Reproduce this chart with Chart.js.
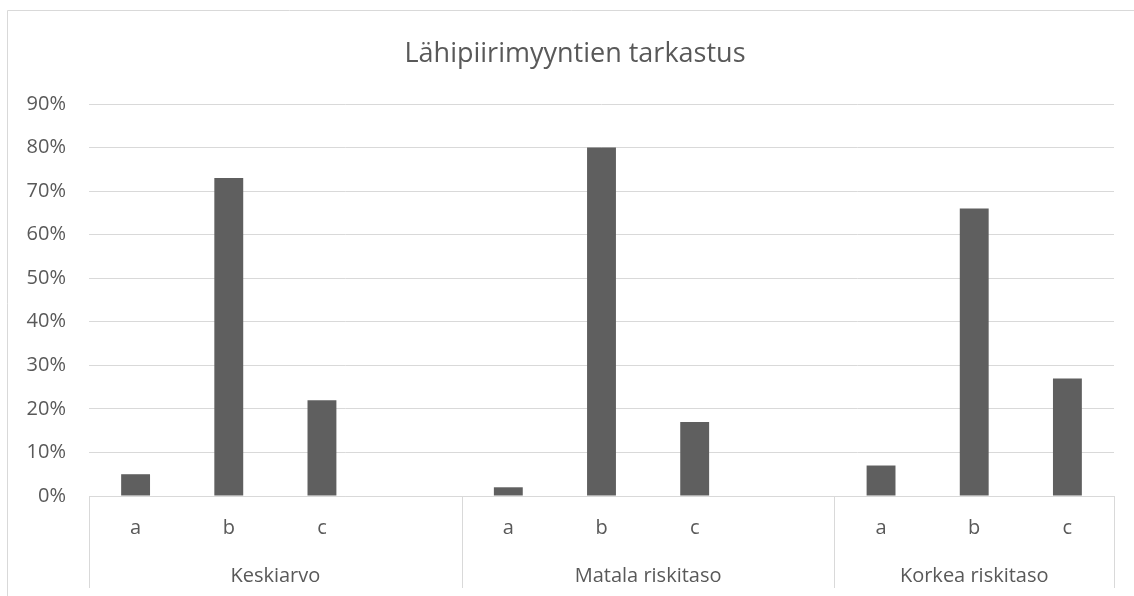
<!DOCTYPE html>
<html>
<head>
<meta charset="utf-8">
<script src="https://cdn.jsdelivr.net/npm/chart.js@4/dist/chart.umd.min.js"></script>
<style>
  html, body { margin: 0; padding: 0; background: #ffffff; }
  #wrap { width: 1134px; height: 596px; position: relative; }
</style>
</head>
<body>
<div id="wrap"><canvas id="chart" width="1134" height="596"></canvas></div>
<script>
// Chart heading
const titleText = 'Lähipiirimyyntien tarkastus';
// Inner category labels; an empty slot closes each group
const categories = ['a', 'b', 'c', '', 'a', 'b', 'c', '', 'a', 'b', 'c'];
// Percent values per slot (null = spacer slot)
const values = [5, 73, 22, null, 2, 80, 17, null, 7, 66, 27];
// Outer group labels and how many slots each spans
const groupNames = ['Keskiarvo', 'Matala riskitaso', 'Korkea riskitaso'];
const groupSizes = [4, 4, 3];
// Y axis ticks
const yTicks = [0, 10, 20, 30, 40, 50, 60, 70, 80, 90];

const TEXT = '#595959';
const LINE = '#d9d9d9';
const FONT = "'Open Sans', 'Noto Sans', sans-serif";

// Outer chart frame, heading and the second level of the category axis
const groupAxis = {
  id: 'groupAxis',
  beforeDraw(chart) {
    const ctx = chart.ctx;
    ctx.save();
    ctx.strokeStyle = LINE;
    ctx.lineWidth = 1;
    ctx.beginPath();
    ctx.moveTo(7.5, chart.height + 5);
    ctx.lineTo(7.5, 10.5);
    ctx.lineTo(chart.width + 5, 10.5);
    ctx.stroke();
    ctx.fillStyle = TEXT;
    ctx.font = '27px ' + FONT;
    ctx.textAlign = 'center';
    ctx.textBaseline = 'alphabetic';
    ctx.fillText(titleText, 575, 62);
    ctx.restore();
  },
  afterDraw(chart) {
    const ctx = chart.ctx;
    const x = chart.scales.x;
    const area = chart.chartArea;
    const half = (x.getPixelForValue(1) - x.getPixelForValue(0)) / 2;
    const lineBottom = 588;
    ctx.save();
    ctx.strokeStyle = LINE;
    ctx.lineWidth = 1;
    ctx.fillStyle = TEXT;
    ctx.font = '20px ' + FONT;
    ctx.textAlign = 'center';
    ctx.textBaseline = 'alphabetic';
    let start = 0;
    groupSizes.forEach((size, g) => {
      const left = x.getPixelForValue(start) - half;
      const right = x.getPixelForValue(start + size - 1) + half;
      [left, right].forEach(px => {
        const sx = Math.round(px) + 0.5;
        ctx.beginPath();
        ctx.moveTo(sx, area.bottom);
        ctx.lineTo(sx, lineBottom);
        ctx.stroke();
      });
      ctx.fillText(groupNames[g], (left + right) / 2, 582);
      start += size;
    });
    ctx.restore();
  }
};

new Chart(document.getElementById('chart'), {
  type: 'bar',
  data: {
    labels: categories,
    datasets: [{
      data: values,
      backgroundColor: '#5f5f5f',
      borderWidth: 0,
      barPercentage: 0.31,
      categoryPercentage: 1.0
    }]
  },
  options: {
    responsive: false,
    animation: false,
    events: [],
    layout: { padding: { left: 0, right: 20, top: 104, bottom: 0 } },
    plugins: {
      legend: { display: false },
      tooltip: { enabled: false },
      title: { display: false }
    },
    scales: {
      x: {
        grid: { display: false, drawTicks: false },
        border: { display: true, color: LINE, width: 1 },
        ticks: {
          color: TEXT,
          font: { family: FONT, size: 20 },
          padding: 20,
          maxRotation: 0,
          autoSkip: false
        },
        afterFit(scale) { scale.height = 100; }
      },
      y: {
        min: 0,
        max: 90,
        grid: { color: LINE, lineWidth: 1, drawTicks: false },
        border: { display: false },
        afterBuildTicks(scale) { scale.ticks = yTicks.map(v => ({ value: v })); },
        ticks: {
          color: TEXT,
          font: { family: FONT, size: 20 },
          padding: 23,
          callback: v => v + '%'
        },
        afterFit(scale) { scale.width = 89; }
      }
    }
  },
  plugins: [groupAxis]
});
</script>
</body>
</html>
